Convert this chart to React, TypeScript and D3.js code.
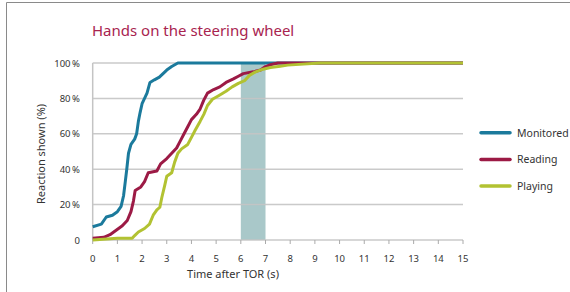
import React from 'react';
import * as d3 from 'd3';

// time after TOR (s) and share of drivers with hands on the wheel (%)
const monitoredT = [0, 0.35, 0.55, 0.8, 1.0, 1.15, 1.25, 1.32, 1.38, 1.45, 1.55, 1.7, 1.78, 1.85, 1.92, 2.0, 2.1, 2.2, 2.32, 2.5, 2.7, 2.85, 3.0, 3.2, 3.45, 15];
const monitoredP = [7.5, 9, 13, 14, 16, 19, 25, 33, 40, 49, 54, 57, 60, 67, 72, 77, 80, 83, 89, 90.5, 92, 94, 96, 98, 100, 100];

const readingT = [0, 0.45, 0.7, 0.95, 1.2, 1.4, 1.55, 1.65, 1.72, 1.95, 2.1, 2.25, 2.6, 2.75, 3.0, 3.2, 3.4, 3.55, 3.7, 3.85, 4.0, 4.2, 4.35, 4.5, 4.65, 4.9, 5.15, 5.4, 5.7, 5.9, 6.1, 6.5, 6.8, 7.0, 7.2, 7.5, 15];
const readingP = [1, 1.5, 3, 5.5, 8, 11, 16, 22, 28, 30, 33, 38, 39, 43, 46, 49, 52, 56, 60, 64, 68, 71, 74, 79, 83, 85, 86.5, 89, 91, 92.5, 94, 95, 96, 98, 99, 100, 100];

const playingT = [0, 1.0, 1.6, 1.7, 1.85, 2.1, 2.3, 2.45, 2.6, 2.72, 2.8, 2.92, 3.0, 3.2, 3.32, 3.45, 3.6, 3.85, 4.0, 4.15, 4.35, 4.5, 4.65, 4.85, 5.1, 5.4, 5.65, 5.9, 6.15, 6.35, 6.6, 6.9, 7.2, 7.6, 7.9, 9.2, 15];
const playingP = [0, 1, 1, 2.5, 4.5, 6.5, 9, 14, 17, 18.5, 24, 31, 36, 38, 44, 49, 51.5, 54, 58, 62, 67, 71, 76, 79.5, 81.5, 84, 86.5, 88.5, 90, 93, 95, 96.5, 97.5, 98.2, 98.8, 100, 100];

const seriesNames = ['Monitored', 'Reading', 'Playing'];
const seriesColors = ['#1b7a9c', '#9c1a45', '#b2c232'];
const xTicks = d3.range(0, 16);
const yTicks = [0, 20, 40, 60, 80, 100];
const band = [6, 7];

const W = 570;
const H = 292;
const font = '"Noto Sans", sans-serif';

export default function App() {
  const x = d3.scaleLinear().domain([0, 15]).range([92.7, 463]);
  const y = d3.scaleLinear().domain([0, 100]).range([240, 63]);
  const line = d3.line<[number, number]>().x(d => x(d[0])).y(d => y(d[1]));

  const series = [
    d3.zip(monitoredT, monitoredP) as [number, number][],
    d3.zip(readingT, readingP) as [number, number][],
    d3.zip(playingT, playingP) as [number, number][],
  ];

  return (
    <svg width={W} height={H} style={{ position: 'absolute', left: 0, top: 0, background: '#fff' }} fontFamily={font}>
      {/* frame */}
      <line x1={6.5} x2={6.5} y1={2.5} y2={H} stroke="#8a8a8a" />
      <line x1={6.5} x2={W} y1={2.5} y2={2.5} stroke="#8a8a8a" />

      <text x={92} y={36} fontSize={15} fill="#a8244f">Hands on the steering wheel</text>

      <rect x={x(band[0])} y={y(100)} width={x(band[1]) - x(band[0])} height={y(0) - y(100)} fill="#a9c8c9" />

      {yTicks.map(t => (
        <g key={t}>
          <line x1={x(0)} x2={x(15)} y1={y(t)} y2={y(t)} stroke="#c4c4c4" strokeWidth={1.5} strokeOpacity={0.9} />
          <text x={80} y={y(t) + 3.5} fontSize={9.5} textAnchor="end" fill="#333">{t === 0 ? '0' : `${t}\u2009%`}</text>
        </g>
      ))}
      <line x1={x(0)} x2={x(0)} y1={y(100)} y2={y(0)} stroke="#c4c4c4" strokeWidth={1.5} />

      {xTicks.map(t => (
        <g key={t}>
          <line x1={x(t)} x2={x(t)} y1={y(0)} y2={y(0) + 4} stroke="#aaa" />
          <text x={x(t)} y={262} fontSize={9.5} textAnchor="middle" fill="#333">{t}</text>
        </g>
      ))}

      <text x={233} y={278} fontSize={11} textAnchor="middle" fill="#333">Time after TOR (s)</text>
      <text transform="translate(45,154) rotate(-90)" fontSize={11} textAnchor="middle" fill="#333">Reaction shown (%)</text>

      {series.map((s, i) => (
        <path key={i} d={line(s) ?? ''} fill="none" stroke={seriesColors[i]} strokeWidth={3} strokeLinejoin="round" />
      ))}

      {seriesNames.map((n, i) => (
        <g key={n}>
          <line x1={481} x2={510} y1={132.7 + i * 26.7} y2={132.7 + i * 26.7} stroke={seriesColors[i]} strokeWidth={3.5} strokeLinecap="round" />
          <text x={517} y={136.5 + i * 26.7} fontSize={10.5} fill="#333">{n}</text>
        </g>
      ))}
    </svg>
  );
}
